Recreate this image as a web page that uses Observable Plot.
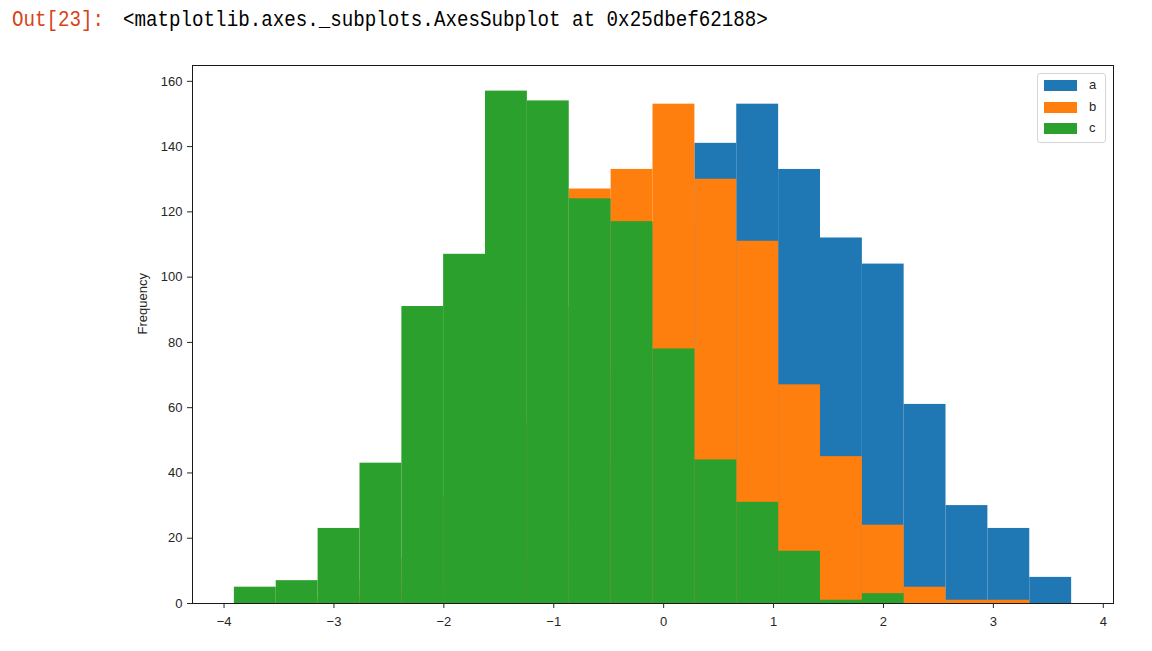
<!DOCTYPE html>
<html><head><meta charset="utf-8">
<script src="https://cdn.jsdelivr.net/npm/d3@7"></script>
<script src="https://cdn.jsdelivr.net/npm/@observablehq/plot@0.6"></script>
<style>
body{margin:0;background:#fff;width:1152px;height:651px;overflow:hidden;position:relative;}
#hdr{height:40px;position:relative;font-family:"Liberation Mono","DejaVu Sans Mono",monospace;font-size:19.2px;line-height:19.2px;}
#hdr span{position:absolute;top:8.6px;white-space:pre;transform:scaleY(1.18);transform-origin:left top;}
#out{left:12px;color:#d84315;}
#repr{left:123px;color:#000;}
#legend{position:absolute;left:1037px;top:73px;width:67px;height:68px;border:1px solid #d6d6d6;border-radius:3px;background:rgba(255,255,255,0.8);font-family:"Liberation Sans",Arial,sans-serif;font-size:13px;color:#262626;}
.sw{position:absolute;left:6px;width:33px;height:11px;}
.lb{position:absolute;left:51px;line-height:14px;}
</style></head><body>
<div id="hdr"><span id="out">Out[23]:</span><span id="repr">&lt;matplotlib.axes._subplots.AxesSubplot at 0x25dbef62188&gt;</span></div>
<div id="chart"></div>
<div id="legend"></div>
<script>
// bin edges
const edges = [-3.906, -3.525, -3.144, -2.763, -2.382, -2.002, -1.621, -1.240, -0.859, -0.478, -0.097,
               0.284, 0.665, 1.046, 1.427, 1.808, 2.188, 2.569, 2.950, 3.331, 3.712];
// counts per bin for each column
const seriesNames = ["a", "b", "c"];
const seriesColors = ["#1f77b4", "#ff7f0e", "#2ca02c"];
const countsA = [0, 0, 0, 1, 3, 6, 13, 24, 43, 71, 116, 141, 153, 133, 112, 104, 61, 30, 23, 8];
const countsB = [0, 1, 2, 7, 14, 33, 55, 91, 127, 133, 153, 130, 111, 67, 45, 24, 5, 1, 1, 0];
const countsC = [5, 7, 23, 43, 91, 107, 157, 154, 124, 117, 78, 44, 31, 16, 1, 3, 0, 0, 0, 0];
const xTicks = [-4, -3, -2, -1, 0, 1, 2, 3, 4];
const yTicks = [0, 20, 40, 60, 80, 100, 120, 140, 160];

const allCounts = [countsA, countsB, countsC];
const rows = allCounts.map(cs => cs.map((v, i) => ({x1: edges[i], x2: edges[i + 1], y: v})));

const lo = edges[0], hi = edges[edges.length - 1], pad = (hi - lo) * 0.05;
const ymax = d3.max(allCounts.flat()) * 1.05;

const chart = Plot.plot({
  width: 1152,
  height: 611,
  marginLeft: 192,
  marginRight: 39,
  marginTop: 25,
  marginBottom: 48,
  style: {fontFamily: "'Liberation Sans', Arial, sans-serif", fontSize: "13px", color: "#262626", background: "#fff"},
  x: {domain: [lo - pad, hi + pad]},
  y: {domain: [0, ymax]},
  marks: [
    ...rows.map((r, k) => Plot.rectY(r, {x1: "x1", x2: "x2", y: "y", fill: seriesColors[k]})),
    Plot.frame({stroke: "#1a1a1a", strokeWidth: 1}),
    Plot.axisX({ticks: xTicks, tickSize: 5, tickPadding: 8.5, label: null, tickFormat: d => d < 0 ? "\u2212" + Math.abs(d) : String(d)}),
    Plot.axisY({ticks: yTicks, tickSize: 5, tickPadding: 5, label: null}),
    Plot.text(["Frequency"], {text: d => d, frameAnchor: "left", dx: -50, rotate: -90, fontSize: 13, fill: "#262626"})
  ]
});
document.getElementById("chart").appendChild(chart);

const legend = document.getElementById("legend");
seriesNames.forEach((name, k) => {
  const sw = document.createElement("div");
  sw.className = "sw";
  sw.style.top = (6 + k * 21.5) + "px";
  sw.style.background = seriesColors[k];
  legend.appendChild(sw);
  const lb = document.createElement("div");
  lb.className = "lb";
  lb.style.top = (4 + k * 21.5) + "px";
  lb.textContent = name;
  legend.appendChild(lb);
});
</script></body></html>
